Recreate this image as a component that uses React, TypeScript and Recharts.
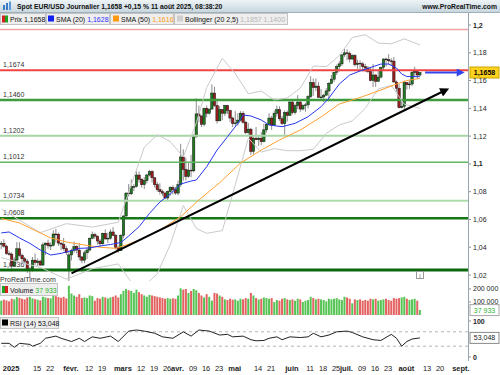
import React from 'react';
import { ComposedChart, Bar, Line, XAxis, YAxis, ReferenceLine } from 'recharts';

const FONT = '"Liberation Sans", Arial, Helvetica, sans-serif';

// daily candles [open, high, low, close], from 27 Dec 2024 to 11 Aug 2025
const candles: number[][] = [
  [1.0422, 1.0445, 1.0386, 1.0428], [1.0428, 1.0457, 1.0396, 1.0408], [1.0408, 1.0416, 1.0345, 1.0354],
  // janv.
  [1.0354, 1.0375, 1.034, 1.035], [1.035, 1.0365, 1.0226, 1.0265], [1.0265, 1.0327, 1.026, 1.0308],
  [1.0308, 1.0437, 1.03, 1.0389], [1.0389, 1.0436, 1.0332, 1.0342], [1.0342, 1.0355, 1.028, 1.0317],
  [1.0317, 1.033, 1.0285, 1.03], [1.03, 1.0315, 1.0215, 1.0244], [1.024, 1.026, 1.0178, 1.0244],
  [1.0244, 1.033, 1.0225, 1.0307], [1.0307, 1.0355, 1.027, 1.029], [1.029, 1.032, 1.0265, 1.03],
  [1.03, 1.031, 1.0265, 1.0272], [1.0272, 1.0435, 1.0265, 1.0417], [1.0417, 1.0433, 1.0345, 1.043],
  [1.043, 1.0455, 1.039, 1.0411], [1.0411, 1.0435, 1.038, 1.0414], [1.0414, 1.0522, 1.0405, 1.0495],
  [1.0495, 1.0533, 1.0433, 1.0494], [1.0494, 1.0505, 1.041, 1.043], [1.043, 1.0435, 1.038, 1.0422],
  [1.0422, 1.0467, 1.0375, 1.039], [1.039, 1.041, 1.0345, 1.0362],
  // févr.
  [1.024, 1.0375, 1.0141, 1.0345], [1.0345, 1.039, 1.0305, 1.0378], [1.0378, 1.0442, 1.036, 1.0405],
  [1.0405, 1.0415, 1.0355, 1.038], [1.038, 1.043, 1.0305, 1.033], [1.033, 1.0337, 1.0285, 1.0307],
  [1.0307, 1.0375, 1.0285, 1.036], [1.036, 1.04, 1.0315, 1.038], [1.038, 1.047, 1.037, 1.0465],
  [1.0465, 1.0513, 1.0458, 1.049], [1.049, 1.0505, 1.046, 1.048], [1.048, 1.0485, 1.042, 1.0445],
  [1.0445, 1.046, 1.04, 1.0425], [1.0425, 1.0505, 1.0418, 1.05], [1.05, 1.0528, 1.0455, 1.046],
  [1.046, 1.0505, 1.043, 1.0465], [1.0465, 1.053, 1.0455, 1.051], [1.051, 1.0545, 1.048, 1.0485],
  [1.0485, 1.0495, 1.0385, 1.04], [1.04, 1.0412, 1.036, 1.0375],
  // mars
  [1.0375, 1.0495, 1.0375, 1.0485], [1.0485, 1.063, 1.0465, 1.0625], [1.0625, 1.0795, 1.061, 1.079],
  [1.079, 1.0855, 1.0765, 1.0785], [1.0785, 1.0888, 1.0775, 1.0835], [1.0835, 1.0855, 1.0805, 1.0838],
  [1.0838, 1.0947, 1.083, 1.092], [1.092, 1.0945, 1.0865, 1.089], [1.089, 1.0895, 1.083, 1.085],
  [1.085, 1.0905, 1.082, 1.088], [1.088, 1.093, 1.086, 1.092], [1.092, 1.0955, 1.091, 1.0945],
  [1.0945, 1.0955, 1.0865, 1.09], [1.09, 1.0905, 1.083, 1.085], [1.085, 1.087, 1.08, 1.0815],
  [1.0815, 1.086, 1.078, 1.08], [1.08, 1.0815, 1.077, 1.079], [1.079, 1.08, 1.0745, 1.0755],
  [1.0755, 1.081, 1.0735, 1.08], [1.08, 1.084, 1.077, 1.083], [1.083, 1.0845, 1.078, 1.0815],
  // avr.
  [1.0815, 1.0835, 1.0778, 1.079], [1.079, 1.088, 1.0775, 1.085], [1.085, 1.1145, 1.0835, 1.105],
  [1.105, 1.1105, 1.088, 1.096], [1.096, 1.1045, 1.088, 1.091], [1.091, 1.1015, 1.09, 1.0955],
  [1.0955, 1.1065, 1.0905, 1.095], [1.095, 1.1215, 1.094, 1.1195], [1.1195, 1.1473, 1.119, 1.136],
  [1.136, 1.142, 1.13, 1.1345], [1.1345, 1.135, 1.1265, 1.1285], [1.1285, 1.1405, 1.127, 1.14],
  [1.14, 1.142, 1.1335, 1.1365], [1.1365, 1.1395, 1.1355, 1.1395], [1.1395, 1.1573, 1.139, 1.151],
  [1.151, 1.1555, 1.141, 1.142], [1.142, 1.147, 1.129, 1.131], [1.131, 1.1415, 1.131, 1.139],
  [1.139, 1.1395, 1.1315, 1.1365], [1.1365, 1.1425, 1.1345, 1.142], [1.142, 1.1425, 1.136, 1.1385],
  [1.1385, 1.139, 1.13, 1.133],
  // mai
  [1.133, 1.134, 1.1265, 1.129], [1.129, 1.138, 1.1272, 1.1295], [1.1295, 1.1365, 1.1275, 1.1315],
  [1.1315, 1.138, 1.1305, 1.1365], [1.1365, 1.138, 1.129, 1.13], [1.13, 1.131, 1.1215, 1.1225],
  [1.1225, 1.1295, 1.121, 1.125], [1.125, 1.126, 1.1065, 1.109], [1.109, 1.1195, 1.107, 1.1185],
  [1.1185, 1.1265, 1.117, 1.1175], [1.1175, 1.12, 1.113, 1.1185], [1.1185, 1.123, 1.1135, 1.116],
  [1.116, 1.129, 1.1155, 1.1245], [1.1245, 1.129, 1.1225, 1.1285], [1.1285, 1.1365, 1.1275, 1.133],
  [1.133, 1.1345, 1.1245, 1.128], [1.128, 1.1385, 1.1275, 1.1365], [1.1365, 1.142, 1.134, 1.139],
  [1.139, 1.1415, 1.131, 1.1325], [1.1325, 1.1345, 1.128, 1.129], [1.129, 1.1385, 1.121, 1.137],
  [1.137, 1.1385, 1.1305, 1.135],
  // juin
  [1.135, 1.1455, 1.1345, 1.1445], [1.1445, 1.1455, 1.1357, 1.137], [1.137, 1.1435, 1.1355, 1.142],
  [1.142, 1.1495, 1.1395, 1.1445], [1.1445, 1.1455, 1.1375, 1.1395], [1.1395, 1.143, 1.1385, 1.142],
  [1.142, 1.144, 1.1375, 1.1425], [1.1425, 1.1495, 1.14, 1.1485], [1.1485, 1.1631, 1.1475, 1.1585],
  [1.1585, 1.1615, 1.149, 1.155], [1.155, 1.1615, 1.1525, 1.156], [1.156, 1.159, 1.1475, 1.148],
  [1.148, 1.154, 1.1455, 1.1482], [1.1482, 1.1505, 1.1445, 1.1495], [1.1495, 1.1545, 1.149, 1.1525],
  [1.1525, 1.159, 1.145, 1.158], [1.158, 1.164, 1.1575, 1.161], [1.161, 1.166, 1.159, 1.166],
  [1.166, 1.1715, 1.164, 1.17], [1.17, 1.174, 1.1665, 1.172], [1.172, 1.179, 1.1705, 1.1785],
  // juil.
  [1.1785, 1.183, 1.177, 1.18], [1.18, 1.1825, 1.1745, 1.1795], [1.1795, 1.181, 1.173, 1.1755],
  [1.1755, 1.179, 1.175, 1.178], [1.178, 1.179, 1.17, 1.1715], [1.1715, 1.175, 1.1685, 1.1725],
  [1.1725, 1.1745, 1.168, 1.172], [1.172, 1.1735, 1.1665, 1.17], [1.17, 1.172, 1.166, 1.169],
  [1.169, 1.1705, 1.1655, 1.1665], [1.1665, 1.17, 1.1595, 1.16], [1.16, 1.172, 1.1555, 1.164],
  [1.164, 1.1645, 1.1555, 1.1595], [1.1595, 1.168, 1.159, 1.1625], [1.1625, 1.17, 1.1615, 1.1695],
  [1.1695, 1.176, 1.1675, 1.1755], [1.1755, 1.1765, 1.17, 1.175], [1.175, 1.179, 1.1715, 1.1742],
  [1.1742, 1.176, 1.171, 1.174], [1.174, 1.177, 1.1585, 1.159], [1.159, 1.16, 1.152, 1.1545],
  [1.1545, 1.1575, 1.14, 1.1405], [1.1405, 1.145, 1.14, 1.1415],
  // août
  [1.1415, 1.16, 1.1391, 1.1585], [1.1585, 1.159, 1.1535, 1.157], [1.157, 1.16, 1.154, 1.1575],
  [1.1575, 1.167, 1.156, 1.166], [1.166, 1.17, 1.1625, 1.1665], [1.1665, 1.1675, 1.1615, 1.164],
  [1.164, 1.166, 1.163, 1.1658],
];

// volume per bar, thousands
const volumesK = [
  110, 118, 112, 105, 125, 120, 138, 132, 125, 120, 135, 140, 128, 122, 118, 112, 140, 135, 130, 128, 150, 145, 138, 132, 140, 128,
  225, 165, 150, 140, 160, 130, 135, 130, 150, 145, 110, 130, 125, 140, 135, 128, 135, 140, 150, 135,
  160, 185, 200, 190, 185, 170, 195, 175, 160, 150, 140, 155, 150, 145, 140, 135, 130, 125, 130, 125, 128,
  125, 150, 205, 195, 200, 170, 185, 200, 190, 170, 150, 135, 160, 140, 110, 170, 165, 150, 140, 120, 115, 125,
  118, 120, 110, 125, 120, 130, 125, 170, 150, 130, 120, 125, 135, 130, 125, 130, 100, 115, 110, 125, 130, 120,
  115, 120, 110, 125, 120, 100, 110, 115, 140, 130, 120, 125, 120, 115, 105, 125, 120, 125, 130, 120, 115,
  140, 135, 125, 90, 120, 115, 120, 110, 115, 110, 125, 120, 125, 110, 115, 120, 125, 115, 110, 130, 125, 130, 135,
  140, 125, 115, 120, 125, 110, 37.933,
];

// indicator lines: [slot, value]
const sma20Pts = [
  [0, 1.0503], [3, 1.051], [7, 1.0467], [11, 1.0428], [15, 1.038], [19, 1.0344], [23, 1.0356], [26, 1.0371],
  [30, 1.0392], [34, 1.0395], [38, 1.0409], [42, 1.042], [46, 1.0434], [49, 1.0481], [53, 1.0548], [57, 1.0644],
  [61, 1.0726], [65, 1.0783], [69, 1.0855], [73, 1.0877], [75, 1.0884], [79, 1.098], [83, 1.11], [87, 1.1196],
  [91, 1.1292], [93, 1.1352], [96, 1.1345], [100, 1.1316], [103, 1.128], [108, 1.1268], [113, 1.1292],
  [118, 1.134], [123, 1.1412], [126, 1.1474], [130, 1.1575], [134, 1.164], [138, 1.1669], [142, 1.1694],
  [146, 1.1719], [149, 1.1719], [152, 1.169], [154, 1.1647], [156, 1.1629], [161, 1.1628],
];
const sma50Pts = [
  [0, 1.0607], [7, 1.0575], [15, 1.0503], [19, 1.0467], [25, 1.0438], [33, 1.0413], [38, 1.04], [44, 1.0392],
  [48, 1.0416], [53, 1.0452], [61, 1.0524], [69, 1.062], [76, 1.074], [84, 1.0865], [92, 1.1006], [100, 1.11],
  [107, 1.1172], [115, 1.1244], [123, 1.1338], [130, 1.1431], [138, 1.1478], [146, 1.1532], [152, 1.1575],
  [156, 1.16], [161, 1.1616],
];
const bbUpperPts = [
  [0, 1.0675], [15, 1.0505], [25, 1.057], [35, 1.0545], [45, 1.058], [50, 1.085], [55, 1.112], [60, 1.121],
  [65, 1.116], [70, 1.105], [75, 1.1295], [79, 1.155], [85, 1.176], [90, 1.165], [95, 1.1505], [100, 1.1525],
  [105, 1.146], [110, 1.1475], [115, 1.1545], [120, 1.1705], [125, 1.17], [130, 1.178], [135, 1.191],
  [140, 1.193], [145, 1.187], [150, 1.1865], [155, 1.19], [161, 1.1857],
];
const bbLowerPts = [
  [0, 1.0325], [15, 1.0255], [25, 1.017], [35, 1.0245], [45, 1.028], [50, 1.015], [55, 1.012], [60, 1.021],
  [65, 1.042], [70, 1.07], [75, 1.0535], [79, 1.05], [85, 1.052], [90, 1.085], [95, 1.1185], [100, 1.1085],
  [105, 1.111], [110, 1.1095], [115, 1.1095], [120, 1.1105], [125, 1.122], [130, 1.128], [135, 1.131],
  [140, 1.14], [145, 1.154], [150, 1.1565], [155, 1.143], [161, 1.14],
];
const rsiPts = [
  [0, 38], [3, 38], [5, 27], [7, 38], [11, 35], [12, 30], [15, 38], [17, 52], [21, 58], [23, 52], [27, 43],
  [30, 52], [32, 43], [35, 56], [38, 52], [42, 58], [45, 43], [49, 72], [52, 75], [55, 72], [59, 66], [62, 56],
  [66, 52], [70, 70], [73, 58], [76, 75], [80, 72], [84, 61], [87, 63], [89, 56], [93, 58], [96, 48], [98, 45],
  [101, 46], [103, 52], [106, 56], [108, 48], [111, 56], [115, 54], [118, 56], [120, 66], [123, 56], [126, 61],
  [129, 70], [133, 72], [135, 68], [139, 56], [143, 48], [146, 46], [150, 63], [152, 52], [154, 30], [156, 43],
  [158, 50], [161, 53.048],
];

// drawn objects
const trendPts = [[27, 1.0212], [171, 1.1532]];
const lastArrowPts = [[163, 1.1658], [177, 1.1658]];
const topLine = 1.1968;
const levelValues = [1.1674, 1.146, 1.1202, 1.1012, 1.0734, 1.0608, 1.0236];
const levelLabels = ['1,1674', '1,1460', '1,1202', '1,1012', '1,0734', '1,0608', '1,0236'];

const lastPrice = 1.1658;
const lastVolume = 37933;
const lastRsi = 53.048;

const priceTicks = [1.02, 1.04, 1.06, 1.08, 1.1, 1.12, 1.14, 1.16, 1.18, 1.2];
const volumeTicks = [100000, 200000];
const rsiTicks = [0, 100];
const xTickSlots = [3, 13, 18, 26, 33, 38, 46, 53, 58, 63, 67, 73, 78, 83, 89, 98, 103, 111, 118, 123, 128, 132, 138, 143, 148, 155, 163, 168, 176];
const xTickLabels = ['2025', '15', '22', 'févr.', '12', '19', 'mars', '12', '19', '26', 'avr.', '09', '16', '23', 'mai', '14', '21', 'juin', '11', '18', '25', 'juil.', '09', '16', '23', 'août', '13', '20', 'sept.'];

const SLOTS = 180;

const levelStyles = [
  { color: '#ef4444', w: 2 },
  { color: '#3e9c3e', w: 2.5 },
  { color: '#a6d6a6', w: 2 },
  { color: '#62b862', w: 1.5 },
  { color: '#acdbac', w: 2 },
  { color: '#147814', w: 2.5 },
  { color: '#0c680c', w: 3 },
];

const rows: any[] = Array.from({ length: SLOTS }, (_, s) => {
  const r: any = { slot: s };
  const k = candles[s];
  if (k) {
    r.o = k[0]; r.h = k[1]; r.l = k[2]; r.c = k[3];
    r.range = [k[2], k[1]];
    r.vol = volumesK[s] * 1000;
  }
  return r;
});
const put = (pts: number[][], key: string) => pts.forEach(([s, v]) => { rows[s][key] = v; });
put(sma20Pts, 'sma20');
put(sma50Pts, 'sma50');
put(bbUpperPts, 'bbUp');
put(bbLowerPts, 'bbLo');
put(rsiPts, 'rsi');
put(trendPts, 'trend');
put(lastArrowPts, 'arrow');

const comma = (v: number) => String(v).replace('.', ',');
const spaced = (v: number) => String(v).replace(/\B(?=(\d{3})+(?!\d))/g, ' ');

const Candle = (p: any) => {
  const d = p.payload;
  if (!d || d.h == null) return null;
  const cx = p.x + p.width / 2;
  const top = Math.min(p.y, p.y + p.height);
  const bot = Math.max(p.y, p.y + p.height);
  const k = d.h > d.l ? (bot - top) / (d.h - d.l) : 0;
  const bTop = top + (d.h - Math.max(d.o, d.c)) * k;
  const bBot = top + (d.h - Math.min(d.o, d.c)) * k;
  const up = d.c >= d.o;
  return (
    <g>
      <line x1={cx} x2={cx} y1={top} y2={bot} stroke="#8c8c8c" strokeWidth={1} />
      <rect x={cx - 1.2} y={bTop} width={2.4} height={Math.max(bBot - bTop, 0.8)} fill={up ? '#1e7a1e' : '#9a1c1c'} stroke="#151515" strokeWidth={0.5} />
    </g>
  );
};

const VolBar = (p: any) => {
  const d = p.payload;
  if (!d || d.vol == null) return null;
  const cx = p.x + p.width / 2;
  const up = d.c >= d.o;
  return <rect x={cx - 1} y={p.y} width={2} height={p.height} fill={up ? '#55c455' : '#e46262'} />;
};

const makeYTick = (fmt: (v: number) => string, bold: (v: number) => boolean) => (p: any) => {
  const v = p.payload.value;
  return (
    <g>
      <line x1={p.x - 5} x2={p.x - 2} y1={p.y} y2={p.y} stroke="#8a949a" />
      <text x={p.x} y={p.y + 2.5} fontSize={7} fontFamily={FONT} fill="#222" fontWeight={bold(v) ? 700 : 400}>{fmt(v)}</text>
    </g>
  );
};

const PriceTick = makeYTick(comma, (v) => Math.abs(v - 1.2) < 1e-6 || Math.abs(v - 1.1) < 1e-6);
const VolTick = makeYTick(spaced, () => false);
const RsiTick = makeYTick((v) => String(v), () => true);

const XTick = (p: any) => {
  const i = xTickSlots.indexOf(p.payload.value);
  if (i < 0) return null;
  const label = xTickLabels[i];
  const bold = !/^\d\d$/.test(label);
  return (
    <text x={p.x + 2} y={p.y + 14} textAnchor="middle" fontSize={7.5} fontFamily={FONT} fill="#222" fontWeight={bold ? 700 : 400}>{label}</text>
  );
};

const LevelLabel = (text: string) => (p: any) => {
  const vb = p.viewBox || {};
  return <text x={(vb.x || 0) + 3} y={(vb.y || 0) - 3} fontSize={7} fontFamily={FONT} fill="#333">{text}</text>;
};

const Tag = (text: string, fill: string, stroke: string, color: string, bold: boolean) => (p: any) => {
  const vb = p.viewBox || {};
  const x = (vb.x || 0) + (vb.width || 0) + 2;
  const y = vb.y || 0;
  return (
    <g>
      <rect x={x} y={y - 5.5} width={29} height={11} fill={fill} stroke={stroke} strokeWidth={1} />
      <text x={x + 14.5} y={y + 2.5} textAnchor="middle" fontSize={7} fontFamily={FONT} fill={color} fontWeight={bold ? 700 : 400}>{text}</text>
    </g>
  );
};

const common = { data: rows, width: 500 };

export default function App() {
  return (
    <div style={{ position: 'absolute', left: 0, top: 0, width: 500, height: 375, background: '#fff', overflow: 'hidden', fontFamily: FONT }}>
      {/* price panel */}
      <div style={{ position: 'absolute', left: 0, top: 0 }}>
        <ComposedChart {...common} height={282} margin={{ top: 20, right: 0, bottom: 1, left: 0 }}>
          <defs>
            <marker id="arrowK" viewBox="0 0 10 10" refX="6" refY="5" markerWidth="5" markerHeight="4.5" orient="auto">
              <path d="M0,0 L10,5 L0,10 z" fill="#000" />
            </marker>
            <marker id="arrowB" viewBox="0 0 10 10" refX="6" refY="5" markerWidth="4.5" markerHeight="4" orient="auto">
              <path d="M0,0 L10,5 L0,10 z" fill="#3346ee" />
            </marker>
          </defs>
          <XAxis dataKey="slot" type="category" scale="band" hide />
          <YAxis orientation="right" width={32} domain={[1.0157, 1.2036]} allowDataOverflow ticks={priceTicks} tick={PriceTick} tickLine={false} axisLine={false} tickMargin={5} tickSize={0} interval={0} />
          <ReferenceLine y={topLine} stroke="#f2a4a4" strokeWidth={1.5} />
          {levelValues.map((v, i) => (
            <ReferenceLine key={v} y={v} stroke={levelStyles[i].color} strokeWidth={levelStyles[i].w} label={LevelLabel(levelLabels[i])} />
          ))}
          <Line dataKey="bbUp" stroke="#cacaca" strokeWidth={1} dot={false} connectNulls isAnimationActive={false} />
          <Line dataKey="bbLo" stroke="#cacaca" strokeWidth={1} dot={false} connectNulls isAnimationActive={false} />
          <Bar dataKey="range" shape={Candle} isAnimationActive={false} />
          <Line dataKey="sma50" stroke="#ffa030" strokeWidth={1} dot={false} connectNulls isAnimationActive={false} />
          <Line dataKey="sma20" stroke="#2638ee" strokeWidth={1} dot={false} connectNulls isAnimationActive={false} />
          <Line dataKey="trend" stroke="#000" strokeWidth={2} dot={false} connectNulls isAnimationActive={false} markerEnd="url(#arrowK)" />
          <Line dataKey="arrow" stroke="#3346ee" strokeWidth={2} dot={false} connectNulls isAnimationActive={false} markerEnd="url(#arrowB)" />
          <ReferenceLine y={lastPrice} stroke="none" label={Tag('1,1658', '#ffd21f', '#c9a400', '#000', true)} />
        </ComposedChart>
      </div>

      {/* volume panel */}
      <div style={{ position: 'absolute', left: 0, top: 282 }}>
        <ComposedChart {...common} height={36} margin={{ top: 1, right: 0, bottom: 3, left: 0 }}>
          <XAxis dataKey="slot" type="category" scale="band" hide />
          <YAxis orientation="right" width={32} domain={[0, 246000]} ticks={volumeTicks} tick={VolTick} tickLine={false} axisLine={false} tickMargin={5} tickSize={0} interval={0} />
          <Bar dataKey="vol" shape={VolBar} isAnimationActive={false} />
          <ReferenceLine y={lastVolume} stroke="none" label={Tag('37 933', '#fff', '#a8a8a8', '#2fb52f', false)} />
        </ComposedChart>
      </div>

      {/* RSI panel */}
      <div style={{ position: 'absolute', left: 0, top: 316 }}>
        <ComposedChart {...common} height={59} margin={{ top: 5, right: 0, bottom: 0, left: 0 }}>
          <XAxis dataKey="slot" type="category" scale="band" height={18} ticks={xTickSlots} tick={XTick} interval={0} tickLine={false} axisLine={false} tickSize={0} tickMargin={0} />
          <YAxis orientation="right" width={32} domain={[0, 100]} ticks={rsiTicks} tick={RsiTick} tickLine={false} axisLine={false} tickMargin={5} tickSize={0} interval={0} />
          <ReferenceLine y={70} stroke="#b4b4b4" strokeDasharray="3 3" />
          <ReferenceLine y={30} stroke="#b4b4b4" strokeDasharray="3 3" />
          <Line dataKey="rsi" stroke="#222" strokeWidth={1} dot={false} connectNulls isAnimationActive={false} />
          <ReferenceLine y={lastRsi} stroke="none" label={Tag('53,048', '#fff', '#8a8a8a', '#222', false)} />
        </ComposedChart>
      </div>

      {/* frame, title and legends */}
      <svg width={500} height={375} style={{ position: 'absolute', left: 0, top: 0, pointerEvents: 'none' }} fontFamily={FONT}>
        <defs>
          <linearGradient id="hdr" x1="0" y1="0" x2="0" y2="1">
            <stop offset="0%" stopColor="#eef4f7" />
            <stop offset="100%" stopColor="#c6d5dd" />
          </linearGradient>
        </defs>
        <rect x={0} y={0} width={500} height={12.5} fill="url(#hdr)" />
        <line x1={0} x2={500} y1={12.5} y2={12.5} stroke="#9fb0ba" />
        <rect x={3} y={5} width={2} height={5} fill="#3a78c8" />
        <rect x={6} y={3} width={2} height={7} fill="#3a78c8" />
        <rect x={9} y={1.5} width={2} height={8.5} fill="#5a98e0" />
        <text x={17} y={9} fontSize={6.8} fontWeight={700} fill="#111">Spot EUR/USD Journalier 1,1658 +0,15 % 11 août 2025, 08:38:20</text>
        <text x={497} y={9} fontSize={6.8} fontWeight={700} fill="#111" textAnchor="end">www.ProRealTime.com</text>

        <line x1={468.5} x2={468.5} y1={13} y2={361} stroke="#9aa4aa" />

        <rect x={0.5} y={13.5} width={45} height={11} fill="#eeeeee" stroke="#c4c4c4" />
        <rect x={2} y={15.5} width={3} height={7} fill="#d42020" />
        <rect x={5} y={15.5} width={3} height={7} fill="#20a020" />
        <text x={10} y={22} fontSize={7} fill="#111">Prix 1,1658</text>

        <rect x={46.5} y={13.5} width={63} height={11} fill="#eeeeee" stroke="#c4c4c4" />
        <rect x={48} y={15.5} width={6} height={6} fill="#1020ee" />
        <text x={56} y={22} fontSize={7} fill="#111">SMA (20) <tspan fill="#3030ff">1,1628</tspan></text>

        <rect x={110.5} y={13.5} width={63} height={11} fill="#eeeeee" stroke="#c4c4c4" />
        <rect x={113} y={15.5} width={6} height={6} fill="#ff9a10" />
        <text x={121} y={22} fontSize={7} fill="#111">SMA (50) <tspan fill="#ff9a10">1,1616</tspan></text>

        <rect x={174.5} y={13.5} width={113} height={11} fill="#eeeeee" stroke="#c4c4c4" />
        <rect x={177} y={15.5} width={6} height={6} fill="#cfcfcf" />
        <text x={185} y={22} fontSize={7} fill="#111">Bollinger (20 2,5) <tspan fill="#b8b8b8">1,1857  1,1400</tspan></text>

        <text x={0} y={282} fontSize={7} fill="#333">ProRealTime.com</text>
        <rect x={416.5} y={271.5} width={7} height={7} fill="#fff" stroke="#9a9a9a" />
        <text x={420} y={277.5} fontSize={6} fill="#555" textAnchor="middle">i</text>

        <rect x={0.5} y={283.5} width={57} height={12} fill="#eeeeee" stroke="#c4c4c4" />
        <rect x={2} y={286} width={3} height={7} fill="#20a020" />
        <rect x={5} y={286} width={3} height={7} fill="#d42020" />
        <text x={10} y={292.5} fontSize={7} fill="#111">Volume <tspan fill="#2fb52f">37 933</tspan></text>

        <rect x={0.5} y={317.5} width={58} height={11} fill="#eeeeee" stroke="#c4c4c4" />
        <rect x={2} y={319.5} width={6} height={6} fill="#000" />
        <text x={10} y={326} fontSize={7} fill="#111">RSI (14) 53,048</text>
      </svg>
    </div>
  );
}
